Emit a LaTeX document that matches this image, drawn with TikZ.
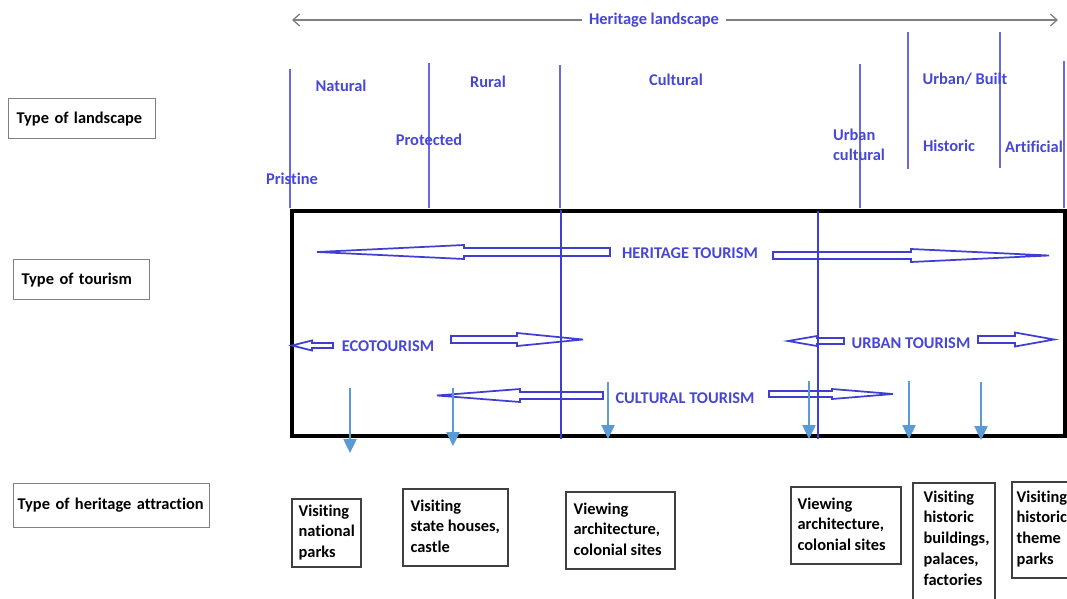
\documentclass[tikz,border=0pt]{standalone}
\usepackage{fontspec}
\setmainfont{Carlito}[Ligatures=NoCommon]
\usetikzlibrary{arrows.meta}
\definecolor{lblue}{RGB}{70,70,215}
\definecolor{lline}{RGB}{105,105,230}
\definecolor{dline}{RGB}{62,62,210}
\definecolor{parrow}{RGB}{91,155,213}
\tikzset{
  lbl/.style={text=lblue, inner sep=1pt},
  rowbox/.style={draw=gray, line width=0.9pt, anchor=north west, inner xsep=6pt, minimum height=30pt, align=left},
  atbox/.style={draw=black!75, line width=0.9pt},
  attext/.style={anchor=north west, align=left, inner sep=1pt, font=\bfseries\fontsize{12.3}{15.6}\selectfont},
  blkarrow/.style={draw=dline, line width=1.3pt, line join=miter},
  dnarrow/.style={draw=parrow, line width=1pt, -{Triangle[length=10.5pt,width=10pt]}}
}
\begin{document}
\begin{tikzpicture}[x=0.75pt, y=-0.75pt, font=\bfseries\fontsize{12.3}{14}\selectfont]
\useasboundingbox (0,0) rectangle (1067,599);

% heritage landscape range
\coordinate (hlw) at (292,20);
\coordinate (hle) at (1058,20);
\draw[gray, line width=1pt, {Straight Barb[length=5pt,width=9pt]}-{Straight Barb[length=5pt,width=9pt]}] (hlw) -- (hle);
\node[lbl, fill=white, inner xsep=5pt] (hland) at (654,20) {Heritage landscape};

% landscape dividers
\foreach \x/\ya/\yb in {290/69/208, 429/63/208, 560/65/208, 860/64/208, 908/32/169, 1000/32/168, 1064/61/208}
  \draw[lline, line width=0.8pt] (\x,\ya) -- (\x,\yb);

\node[lbl] (natural) at (341,86) {Natural};
\node[lbl] (rural) at (488,82) {Rural};
\node[lbl] (cultural) at (676,80) {Cultural};
\node[lbl] (protected) at (429,140) {Protected};
\node[lbl] (pristine) at (292,179) {Pristine};
\node[lbl, align=left, font=\bfseries\fontsize{12.3}{15}\selectfont] (urbcult) at (859,145) {Urban\\cultural};
\node[lbl] (urbbuilt) at (965,79) {Urban/ Built};
\node[lbl] (historic) at (949,146) {Historic};
\node[lbl] (artificial) at (1034,147) {Artificial};

% row titles
\node[rowbox, text width=98pt] (tland) at (8,98) {Type of landscape};
\node[rowbox, text width=90pt] (ttour) at (13,259) {Type of tourism};
\node[rowbox, inner xsep=3pt, text width=141pt, minimum height=33pt] (tattr) at (13,483) {Type of heritage attraction};

% tourism frame
\draw[line width=3pt] (291.5,210.5) rectangle (1064.5,435.5);
\foreach \x/\ya in {561/210, 818/211}
  \draw[dline, line width=1.6pt] (\x,\ya) -- (\x,439);

% block arrows: tail / head base / point / y / shaft half / head half
\foreach \ta/\hb/\tp/\yc/\sw/\hw in {610/464/317/252/4/7, 773/911/1049/255.5/3.5/6.5,
    333/312/292/345.5/2.5/5, 451/517/583/339.5/3.5/6.5,
    603/520/437/395.5/3.5/6.5, 769/832/893/394/3/5,
    844/817/788/341/3/5, 978/1015/1054/339.5/3.5/7}
  \draw[blkarrow] (\ta,\yc-\sw) -- (\hb,\yc-\sw) -- (\hb,\yc-\hw) -- (\tp,\yc)
    -- (\hb,\yc+\hw) -- (\hb,\yc+\sw) -- (\ta,\yc+\sw) -- cycle;

\node[lbl] (heritage) at (690,253) {HERITAGE TOURISM};
\node[lbl] (eco) at (388,346) {ECOTOURISM};
\node[lbl] (culttour) at (685,398) {CULTURAL TOURISM};
\node[lbl] (urbtour) at (911,343) {URBAN TOURISM};

% pointers to attractions
\foreach \x/\ya/\yb in {350/388/453, 453/388/446, 608/382/439, 809/381/439, 909/381/439, 981/382/440}
  \draw[dnarrow] (\x,\ya) -- (\x,\yb);

% attractions
\draw[atbox] (292,499) rectangle (361,567);
\node[attext] (att1) at (297,503) {Visiting\\national\\parks};
\draw[atbox] (403,489) rectangle (508,566);
\node[attext] (att2) at (409,498) {Visiting\\state houses,\\castle};
\draw[atbox] (566,492) rectangle (675,569);
\node[attext] (att3) at (572,501) {Viewing\\architecture,\\colonial sites};
\draw[atbox] (791,487) rectangle (901,564);
\node[attext] (att4) at (796,496) {Viewing\\architecture,\\colonial sites};
\draw[atbox] (913,483) rectangle (995,612);
\node[attext] (att5) at (922,489) {Visiting\\historic\\buildings,\\palaces,\\factories};
\draw[atbox] (1012,482) rectangle (1085,578);
\node[attext] (att6) at (1015,489) {Visiting\\historic\\theme\\parks};
\end{tikzpicture}
\end{document}
